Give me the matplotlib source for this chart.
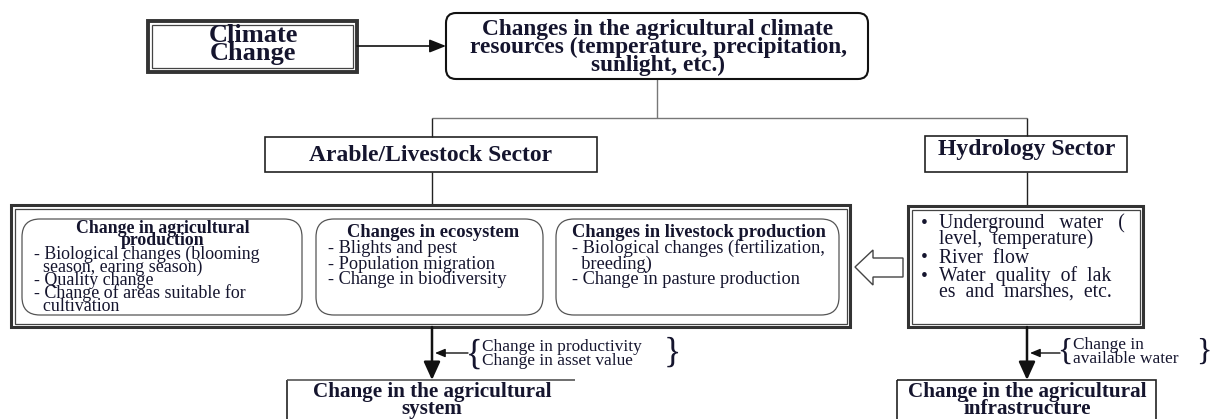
import matplotlib.pyplot as plt
from matplotlib.patches import Rectangle, FancyBboxPatch, Polygon

plt.rcParams['font.family'] = ['Liberation Serif', 'DejaVu Serif']

# texts of the diagram
climate_text = ['Climate', 'Change']
resource_text = ['Changes in the agricultural climate',
                 'resources (temperature, precipitation,',
                 'sunlight, etc.)']
sector_names = ['Arable/Livestock Sector', 'Hydrology Sector']
agri_title = ['Change in agricultural', 'production']
agri_items = ['- Biological changes (blooming', '  season, earing season)',
              '- Quality change', '- Change of areas suitable for', '  cultivation']
eco_title = ['Changes in ecosystem']
eco_items = ['- Blights and pest', '- Population migration', '- Change in biodiversity']
live_title = ['Changes in livestock production']
live_items = ['- Biological changes (fertilization,', '  breeding)',
              '- Change in pasture production']
hydro_items = [['Underground   water   (', 'level,  temperature)'],
               ['River  flow'],
               ['Water  quality  of  lak', 'es  and  marshes,  etc.']]
effects_left = ['Change in productivity', 'Change in asset value']
effects_right = ['Change in', 'available water']
result_left = ['Change in the agricultural', 'system']
result_right = ['Change in the agricultural', 'infrastructure']

TXT = '#15152e'
W, H = 1211, 419
fig = plt.figure(figsize=(W / 100, H / 100), dpi=100)
ax = fig.add_axes([0, 0, 1, 1])
ax.set_xlim(0, W)
ax.set_ylim(H, 0)
ax.axis('off')
renderer = fig.canvas.get_renderer()


def rect(x0, y0, x1, y1, lw=1.0, ec='#222222', z=2):
    ax.add_patch(Rectangle((x0, y0), x1 - x0, y1 - y0, fill=False, lw=lw, ec=ec, zorder=z))


def double_rect(x0, y0, x1, y1, lw_out=2.2, gap=3.5):
    rect(x0, y0, x1, y1, lw=lw_out, ec='#333333')
    rect(x0 + gap, y0 + gap, x1 - gap, y1 - gap, lw=0.9, ec='#444444')


def rbox(x0, y0, x1, y1, r=12, lw=1.0, ec='#333333'):
    ax.add_patch(FancyBboxPatch((x0, y0), x1 - x0, y1 - y0,
                                boxstyle='round,pad=0,rounding_size=%d' % r,
                                fill=False, lw=lw, ec=ec, zorder=2))


def line(xs, ys, lw=1.0, c='#777777'):
    ax.plot(xs, ys, color=c, lw=lw, solid_capstyle='butt', zorder=1)


def arrow(x0, y0, x1, y1, lw=1.4, hw=5, hl=10):
    ax.annotate('', xy=(x1, y1), xytext=(x0, y0),
                arrowprops=dict(arrowstyle='-|>,head_width=%g,head_length=%g' % (hw / 10, hl / 10),
                                color='#111111', lw=lw, shrinkA=0, shrinkB=0,
                                mutation_scale=10), zorder=3)


def block(x, y_first, y_last, lines, size, bold=False, ha='center'):
    # multi-line text; y_first / y_last are the centres of the first and last line
    n = len(lines)
    t = ax.text(x, (y_first + y_last) / 2, '\n'.join(lines), fontsize=size,
                fontweight='bold' if bold else 'normal', ha=ha, va='center',
                multialignment=ha, linespacing=1.0, color=TXT, zorder=4)
    if n > 1:
        # measure the line step at linespacing 1 and scale it to the wanted step
        h_all = t.get_window_extent(renderer).height
        t.set_text(lines[0])
        h_one = t.get_window_extent(renderer).height
        t.set_text('\n'.join(lines))
        step1 = (h_all - h_one) / (n - 1)
        t.set_linespacing((y_last - y_first) / (n - 1) / step1)
    return t


# Climate change box
double_rect(148, 21, 357, 72, lw_out=2.8, gap=4)
block(253, 36, 53, climate_text, 19, bold=True)
arrow(357, 46, 446, 46, lw=1.2, hw=4, hl=10)

# climate resources box
rbox(446, 13, 868, 79, r=10, lw=1.5, ec='#111111')
block(658, 30, 65, resource_text, 16.8, bold=True)

# connectors
line([657, 657], [79, 118])
line([432, 1027], [118, 118])
line([432, 432], [118, 137], c='#222222')
line([1027, 1027], [118, 136], c='#222222')

# sector boxes
rect(265, 137, 597, 172, lw=1.2)
block(431, 155, 155, [sector_names[0]], 17, bold=True)
rect(925, 136, 1127, 172, lw=1.2)
block(1027, 149, 149, [sector_names[1]], 17, bold=True)
line([432, 432], [172, 205], c='#222222')
line([1027, 1027], [172, 206], c='#222222')

# arable/livestock big box
double_rect(11, 205, 850, 327)
rbox(22, 219, 302, 315, r=18, lw=0.9, ec='#555555')
rbox(316, 219, 543, 315, r=18, lw=0.9, ec='#555555')
rbox(556, 219, 839, 315, r=18, lw=0.9, ec='#555555')

block(163, 229, 240, agri_title, 12.8, bold=True)
block(34, 257, 304, agri_items, 12.9, ha='left')

block(433, 232, 232, eco_title, 13.3, bold=True)
block(328, 249, 279, eco_items, 13.2, ha='left')

block(699, 232, 232, live_title, 13.3, bold=True)
block(572, 249, 279, live_items, 13.2, ha='left')

# hollow arrow from hydrology to arable
ax.add_patch(Polygon([(855, 267), (873, 250), (873, 258), (903, 258),
                      (903, 277), (873, 277), (873, 285)],
                     closed=True, fill=True, fc='white', ec='#444444', lw=1.0, zorder=2))

# hydrology box
double_rect(908, 206, 1143, 327)
for lines, (y0, y1) in zip(hydro_items, [(224, 239), (258, 258), (277, 291)]):
    block(939, y0, y1, lines, 14.2, ha='left')
for y in [224, 258, 277]:
    block(924, y - 1, y - 1, ['\u2022'], 14)

# downward arrows to results
arrow(432, 327, 432, 380, lw=1.8, hw=5, hl=11)
arrow(1027, 327, 1027, 380, lw=1.8, hw=5, hl=11)

# side effects with braces
arrow(468, 353, 435, 353, lw=1.0, hw=2.5, hl=6)
block(474, 355, 355, ['{'], 25)
block(482, 347, 361, effects_left, 12.4, ha='left')
block(672, 353, 353, ['}'], 26)

arrow(1060, 353, 1030, 353, lw=1.0, hw=2.5, hl=6)
block(1065, 352, 352, ['{'], 23)
block(1073, 345, 359, effects_right, 12.4, ha='left')
block(1211, 352, 352, ['}'], 23, ha='right')

# result boxes (cut at the bottom edge)
line([287, 287], [380, 430], lw=1.2, c='#222222')
line([287, 575], [380, 380], lw=1.2, c='#555555')
block(432, 393, 408, result_left, 15.2, bold=True)
rect(897, 380, 1156, 440, lw=1.2)
block(1027, 392, 408, result_right, 15.2, bold=True)

fig.savefig('out.png', dpi=100, facecolor='white')
